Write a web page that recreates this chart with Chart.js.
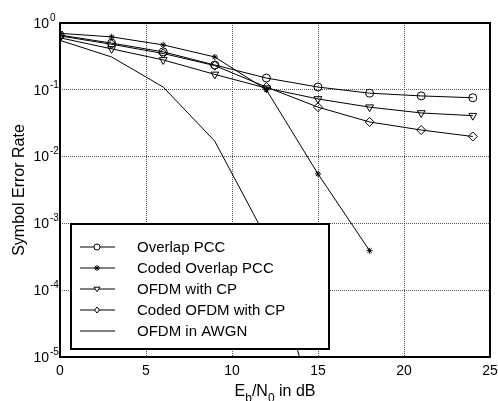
<!DOCTYPE html>
<html>
<head>
<meta charset="utf-8">
<script src="https://cdn.jsdelivr.net/npm/chart.js@4/dist/chart.umd.min.js"></script>
<style>
  html, body { margin: 0; padding: 0; background: #fff; }
  canvas { display: block; }
</style>
</head>
<body>
<canvas id="serChart" width="498" height="401"></canvas>
<script>
// Eb/N0 sample points (dB)
const snr = [0, 3, 6, 9, 12, 15, 18, 21, 24];

// symbol error rate
const overlapPcc = [0.66, 0.5, 0.37, 0.235, 0.15, 0.11, 0.089, 0.081, 0.076];
const codedOverlapPcc = [0.7, 0.62, 0.47, 0.31, 0.1, 0.0055, 0.00039];
const ofdmCp = [0.6, 0.41, 0.28, 0.17, 0.106, 0.073, 0.055, 0.045, 0.041];
const codedOfdmCp = [0.64, 0.48, 0.35, 0.23, 0.11, 0.055, 0.033, 0.025, 0.02];
const ofdmAwgn = [0.55, 0.31, 0.11, 0.017, 0.0006, 0.000001];

const seriesNames = ["Overlap PCC", "Coded Overlap PCC", "OFDM with CP", "Coded OFDM with CP", "OFDM in AWGN"];

const xTicks = [0, 5, 10, 15, 20, 25];
const yTicks = [1e-5, 1e-4, 1e-3, 1e-2, 1e-1, 1];

const FONT = "'Liberation Sans', Arial, sans-serif";

const toPoints = (vals) => vals.map((v, i) => ({ x: snr[i], y: v }));

const markers = [
  { style: "circle", radius: 4, rotation: 0 },
  { style: "star", radius: 3, rotation: 0 },
  { style: "triangle", radius: 4.5, rotation: 180 },
  { style: "rectRot", radius: 4.5, rotation: 0 },
  { style: false, radius: 0, rotation: 0 },
];

const makeDataset = (idx, vals) => ({
  label: seriesNames[idx],
  data: toPoints(vals),
  borderColor: "#000",
  borderWidth: 1,
  backgroundColor: "rgba(0,0,0,0)",
  pointStyle: markers[idx].style || "circle",
  pointRadius: markers[idx].radius,
  pointRotation: markers[idx].rotation,
  pointBorderColor: "#000",
  pointBorderWidth: 1,
  pointBackgroundColor: "rgba(0,0,0,0)",
  tension: 0,
  fill: false,
});

// small marker painter for the legend
function drawMarker(ctx, m, x, y, r) {
  if (!m.style) return;
  ctx.save();
  ctx.strokeStyle = "#000";
  ctx.lineWidth = 1;
  ctx.beginPath();
  if (m.style === "circle") {
    ctx.arc(x, y, r, 0, Math.PI * 2);
  } else if (m.style === "star") {
    ctx.moveTo(x - r, y); ctx.lineTo(x + r, y);
    ctx.moveTo(x, y - r); ctx.lineTo(x, y + r);
    const d = r * 0.7;
    ctx.moveTo(x - d, y - d); ctx.lineTo(x + d, y + d);
    ctx.moveTo(x - d, y + d); ctx.lineTo(x + d, y - d);
  } else if (m.style === "triangle") {
    ctx.moveTo(x - r, y - r * 0.6);
    ctx.lineTo(x + r, y - r * 0.6);
    ctx.lineTo(x, y + r * 0.9);
    ctx.closePath();
  } else if (m.style === "rectRot") {
    ctx.moveTo(x, y - r); ctx.lineTo(x + r * 0.8, y);
    ctx.lineTo(x, y + r); ctx.lineTo(x - r * 0.8, y);
    ctx.closePath();
  }
  ctx.fillStyle = "#fff";
  if (m.style !== "star") ctx.fill();
  ctx.stroke();
  ctx.restore();
}

const decorations = {
  id: "decorations",
  afterDatasetsDraw(chart) {
    const { ctx, chartArea: a, scales } = chart;
    ctx.save();

    // plot frame
    ctx.strokeStyle = "#000";
    ctx.lineWidth = 2;
    ctx.strokeRect(a.left, a.top, a.right - a.left, a.bottom - a.top);

    // y tick labels 10^n
    ctx.fillStyle = "#000";
    ctx.textBaseline = "middle";
    yTicks.forEach((v) => {
      const py = scales.y.getPixelForValue(v);
      const exp = Math.round(Math.log10(v));
      ctx.font = "14px " + FONT;
      ctx.textAlign = "right";
      ctx.fillText("10", a.left - 11, py + 1);
      ctx.font = "10px " + FONT;
      ctx.textAlign = "left";
      ctx.fillText(exp === 0 ? "0" : "-" + Math.abs(exp), a.left - 10, py - 5);
    });

    // x tick labels
    ctx.font = "14px " + FONT;
    ctx.textAlign = "center";
    xTicks.forEach((v) => {
      ctx.fillText(String(v), scales.x.getPixelForValue(v), a.bottom + 14);
    });

    // x axis title  E_b/N_0 in dB
    const parts = [
      { t: "E", size: 16, dy: 0 },
      { t: "b", size: 12, dy: 6 },
      { t: "/N", size: 16, dy: 0 },
      { t: "0", size: 12, dy: 6 },
      { t: " in dB", size: 16, dy: 0 },
    ];
    let total = 0;
    parts.forEach((p) => { ctx.font = p.size + "px " + FONT; p.w = ctx.measureText(p.t).width; total += p.w; });
    let cx = (a.left + a.right) / 2 - total / 2;
    ctx.textAlign = "left";
    ctx.textBaseline = "alphabetic";
    parts.forEach((p) => {
      ctx.font = p.size + "px " + FONT;
      ctx.fillText(p.t, cx, 396 + p.dy);
      cx += p.w;
    });

    // y axis title
    ctx.save();
    ctx.translate(20, (a.top + a.bottom) / 2);
    ctx.rotate(-Math.PI / 2);
    ctx.font = "16px " + FONT;
    ctx.textAlign = "center";
    ctx.textBaseline = "middle";
    ctx.fillText("Symbol Error Rate", 0, 0);
    ctx.restore();

    // legend box inside the plot
    const lx = a.left + 11, ly = 224, lw = 258, lh = 125;
    ctx.fillStyle = "#fff";
    ctx.fillRect(lx, ly, lw, lh);
    ctx.strokeStyle = "#000";
    ctx.lineWidth = 2;
    ctx.strokeRect(lx, ly, lw, lh);
    ctx.font = "15px " + FONT;
    ctx.textBaseline = "middle";
    ctx.textAlign = "left";
    seriesNames.forEach((name, i) => {
      const ry = ly + 23 + i * 21;
      ctx.strokeStyle = "#000";
      ctx.lineWidth = 1;
      ctx.beginPath();
      ctx.moveTo(lx + 9, ry);
      ctx.lineTo(lx + 44, ry);
      ctx.stroke();
      drawMarker(ctx, markers[i], lx + 26, ry, 3);
      ctx.fillStyle = "#000";
      ctx.fillText(name, lx + 66, ry + 1);
    });

    ctx.restore();
  },
};

const ctx = document.getElementById("serChart").getContext("2d");
new Chart(ctx, {
  type: "line",
  data: {
    datasets: [
      makeDataset(0, overlapPcc),
      makeDataset(1, codedOverlapPcc),
      makeDataset(2, ofdmCp),
      makeDataset(3, codedOfdmCp),
      makeDataset(4, ofdmAwgn),
    ],
  },
  options: {
    responsive: false,
    animation: false,
    layout: { padding: { left: 60, right: 8, top: 23, bottom: 44 } },
    plugins: { legend: { display: false }, tooltip: { enabled: false } },
    scales: {
      x: {
        type: "linear",
        min: 0,
        max: 25,
        afterBuildTicks: (scale) => { scale.ticks = xTicks.map((v) => ({ value: v })); },
        ticks: { display: false },
        grid: { color: "#555", lineWidth: 1, drawTicks: false },
        border: { display: false, dash: [1, 1] },
      },
      y: {
        type: "logarithmic",
        min: 1e-5,
        max: 1,
        afterBuildTicks: (scale) => { scale.ticks = yTicks.map((v) => ({ value: v })); },
        ticks: { display: false },
        grid: { color: "#555", lineWidth: 1, drawTicks: false },
        border: { display: false, dash: [1, 1] },
      },
    },
  },
  plugins: [decorations],
});
</script>
</body>
</html>
